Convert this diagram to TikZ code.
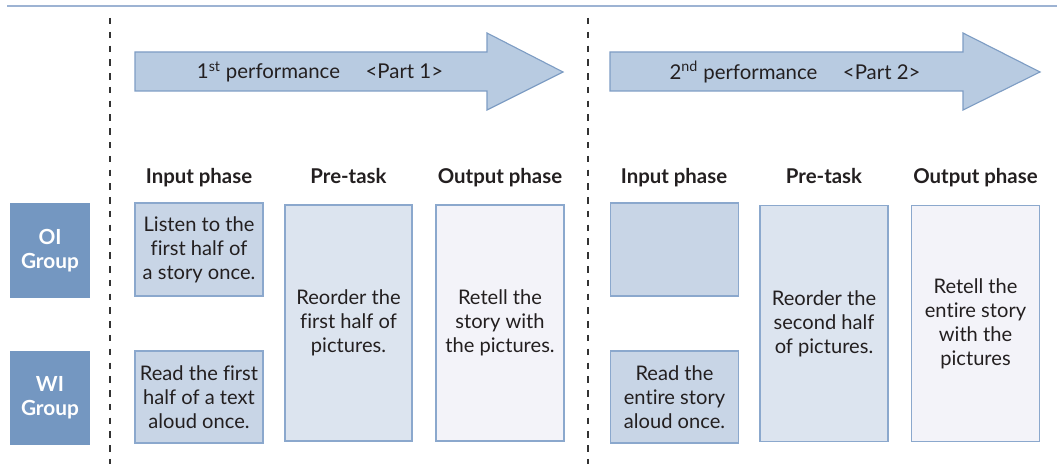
\documentclass[tikz,border=0pt]{standalone}
\usepackage{fontspec}
\setmainfont{Lato}[Ligatures={NoCommon}]
\usetikzlibrary{positioning}

\definecolor{inktext}{HTML}{231F20}
\definecolor{rulecol}{HTML}{9DB3D3}
\definecolor{groupfill}{HTML}{7497C1}
\definecolor{inputfill}{HTML}{C8D5E6}
\definecolor{pretaskfill}{HTML}{DCE4EF}
\definecolor{outputfill}{HTML}{F3F3F9}
\definecolor{boxline}{HTML}{8BA8CD}
\definecolor{arrowfill}{HTML}{B8CBE1}
\definecolor{arrowline}{HTML}{7E9DC4}

\begin{document}
\begin{tikzpicture}[x=0.025cm, y=-0.025cm]
  \def\px{0.025cm}
  \tikzstyle{phasebox} = [draw=boxline, line width=0.8pt, align=center, inner sep=0pt, text=inktext, font=\fontsize{14.3}{17}\selectfont]
  \tikzstyle{inputbox} = [phasebox, fill=inputfill, minimum width=128*\px]
  \tikzstyle{pretaskbox} = [phasebox, fill=pretaskfill, minimum width=127*\px, minimum height=236*\px]
  \tikzstyle{outputbox} = [phasebox, fill=outputfill, minimum width=128*\px, minimum height=236*\px]
  \tikzstyle{groupbox} = [fill=groupfill, align=center, inner sep=0pt, text=white, font=\fontsize{14.8}{17}\selectfont\bfseries, minimum width=80*\px]
  \tikzstyle{header} = [anchor=base, text=inktext, font=\fontsize{14.5}{15}\selectfont\bfseries]
  \tikzstyle{perfarrow} = [draw=arrowline, fill=arrowfill, line width=0.8pt]
  \tikzstyle{perftext} = [text=inktext, font=\fontsize{14.5}{15}\selectfont]
  \tikzstyle{divider} = [draw=black!80, line width=0.9pt, dash pattern=on 4.6pt off 5.2pt]

  \useasboundingbox (0,0) rectangle (1057,464);

  % top rule
  \draw[rulecol, line width=1.4pt] (7,6) -- (1057,6);

  % dividers
  \draw[divider] (110,18) -- (110,464);
  \draw[divider] (588,18) -- (588,464);

  % groups
  \node[groupbox, minimum height=95*\px] (oi) at (50,250.5) {OI\\Group};
  \node[groupbox, minimum height=94*\px] (wi) at (50,398) {WI\\Group};

  \begin{scope}
    \draw[perfarrow] (135,52) -- (487,52) -- (487,33) -- (563,72) -- (487,110) -- (487,91) -- (135,91) -- cycle;
    \node[perftext] (perfa) at (320,72) {1\textsuperscript{st} performance\quad\ {<}Part 1{>}};

    \node[header] (inputa) at (199,184) {Input phase};
    \node[header] (pretaska) at (348.5,184) {Pre-task};
    \node[header] (outputa) at (500,184) {Output phase};

    \node[inputbox, minimum height=93*\px] (oiina) at (199,249.5) {Listen to the\\first half of\\a story once.};
    \node[inputbox, minimum height=92*\px] (wiina) at (199,397) {Read the first\\half of a text\\aloud once.};
    \node[pretaskbox] (prea) at (348.5,323) {Reorder the\\first half of\\pictures.};
    \node[outputbox] (outa) at (500,323) {Retell the\\story with\\the pictures.};
  \end{scope}

  \begin{scope}[shift={(475,0)}]
    \draw[perfarrow] (135,52) -- (488,52) -- (488,33) -- (565,72) -- (488,110) -- (488,91) -- (135,91) -- cycle;
    \node[perftext] (perfb) at (320,72) {2\textsuperscript{nd} performance\quad\ {<}Part 2{>}};

    \node[header] (inputb) at (199,184) {Input phase};
    \node[header] (pretaskb) at (349,184) {Pre-task};
    \node[header] (outputb) at (500.5,184) {Output phase};

    \node[inputbox, minimum height=93*\px] (oiinb) at (199.5,249.5) {};
    \node[inputbox, minimum height=92*\px] (wiinb) at (199.5,397) {Read the\\entire story\\aloud once.};
    \node[pretaskbox, minimum width=128*\px] (preb) at (349,323.5) {Reorder the\\second half\\of pictures.};
    \node[outputbox] (outb) at (500.5,323.5) {Retell the\\entire story\\with the\\pictures};
  \end{scope}
\end{tikzpicture}
\end{document}
